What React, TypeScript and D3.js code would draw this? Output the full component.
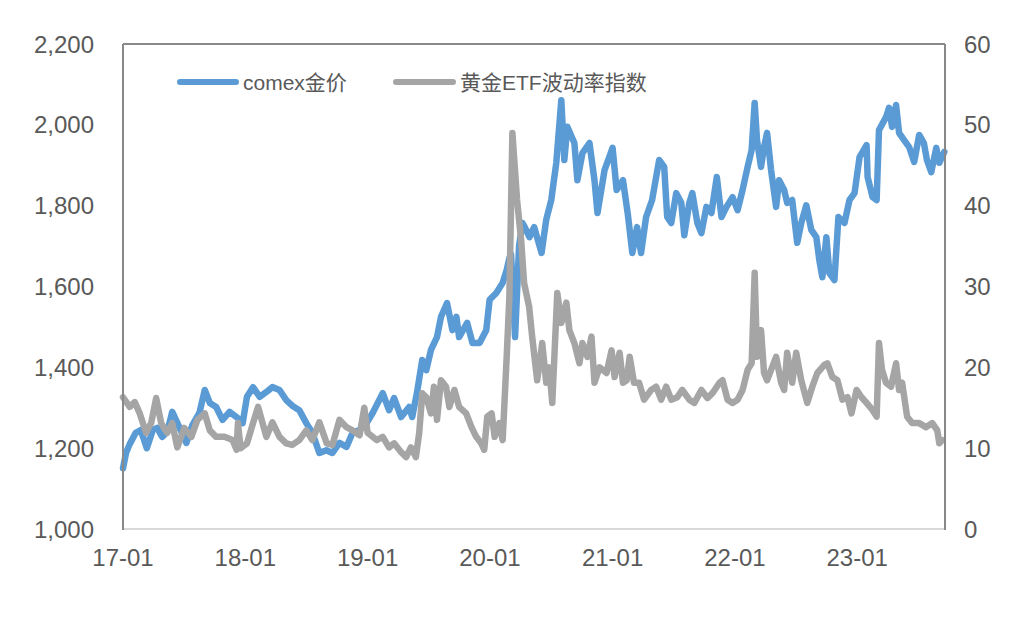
import React from "react";
import * as d3 from "d3";

const goldDates = [
  "2017-01-01","2017-01-10","2017-01-21","2017-02-08","2017-02-23","2017-03-13","2017-03-31","2017-04-13","2017-04-28","2017-05-13","2017-05-28","2017-06-18","2017-07-09","2017-07-27","2017-08-17","2017-09-02","2017-09-17","2017-10-06","2017-10-25","2017-11-15","2017-12-06","2017-12-24",
  "2018-01-06","2018-01-24","2018-02-13","2018-03-05","2018-03-23","2018-04-13","2018-05-03","2018-05-21","2018-06-11","2018-07-02","2018-07-20","2018-08-10","2018-08-31","2018-09-18","2018-10-09","2018-10-30","2018-11-17","2018-12-08","2018-12-29",
  "2019-01-16","2019-02-15","2019-03-06","2019-03-21","2019-04-11","2019-05-05","2019-05-14","2019-05-28","2019-06-13","2019-06-25","2019-07-09","2019-07-27","2019-08-08","2019-08-26","2019-09-11","2019-09-23","2019-10-01","2019-10-25","2019-11-10","2019-12-01","2019-12-21","2019-12-31",
  "2020-01-20","2020-02-08","2020-02-20","2020-02-28","2020-03-04","2020-03-16","2020-03-28","2020-04-07","2020-04-12","2020-04-28","2020-05-12","2020-06-03","2020-06-17","2020-07-02","2020-07-17","2020-08-01","2020-08-10","2020-08-19","2020-09-09","2020-09-18","2020-10-03","2020-10-24","2020-11-08","2020-11-17","2020-12-08",
  "2021-01-01","2021-01-13","2021-02-01","2021-02-15","2021-03-01","2021-03-15","2021-03-27","2021-04-11","2021-04-29","2021-05-20","2021-06-04","2021-06-13","2021-06-25","2021-07-10","2021-07-25","2021-08-03","2021-08-18","2021-08-27","2021-09-11","2021-09-23","2021-10-08","2021-10-23","2021-11-08","2021-11-22","2021-12-07","2021-12-25",
  "2022-01-09","2022-01-24","2022-02-08","2022-02-20","2022-03-01","2022-03-08","2022-03-20","2022-03-29","2022-04-07","2022-04-19","2022-05-04","2022-05-13","2022-05-28","2022-06-06","2022-06-21","2022-07-06","2022-07-18","2022-08-02","2022-08-17","2022-09-01","2022-09-10","2022-09-19","2022-10-01","2022-10-10","2022-10-25","2022-11-06","2022-11-24","2022-12-09","2022-12-24",
  "2023-01-08","2023-01-29","2023-02-01","2023-02-16","2023-02-28","2023-03-07","2023-03-28","2023-04-06","2023-04-15","2023-04-27","2023-05-06","2023-05-21","2023-06-05","2023-06-20","2023-07-05","2023-07-19","2023-07-28","2023-08-10","2023-08-25","2023-09-03","2023-09-18"
];
const goldValues = [
  1150,1188,1210,1238,1245,1200,1245,1250,1228,1240,1290,1252,1213,1257,1287,1344,1312,1302,1270,1290,1277,1262,
  1327,1351,1327,1339,1351,1344,1319,1305,1294,1262,1238,1188,1195,1188,1213,1203,1238,1245,1262,
  1287,1336,1294,1324,1277,1302,1277,1336,1418,1393,1443,1475,1525,1559,1492,1525,1475,1510,1460,1460,1492,1567,
  1584,1609,1641,1670,1680,1475,1700,1757,1750,1722,1747,1683,1765,1814,1906,2061,1913,1995,1955,1863,1930,1955,1863,1782,1888,
  1943,1839,1863,1782,1683,1747,1683,1772,1814,1913,1896,1772,1757,1831,1807,1727,1807,1831,1757,1732,1797,1782,1871,1772,1797,1821,
  1789,1839,1896,1938,2054,1962,1896,1945,1980,1888,1797,1863,1839,1807,1814,1708,1757,1801,1740,1722,1665,1623,1722,1633,1616,1772,1757,1814,1831,
  1920,1950,1871,1821,1814,1987,2019,2042,1995,2049,1980,1962,1945,1908,1975,1955,1913,1883,1943,1906,1933
];

const volDates = [
  "2017-01-01","2017-01-21","2017-02-05","2017-02-20","2017-03-11","2017-03-26","2017-04-10","2017-04-25","2017-05-13","2017-05-28","2017-06-12","2017-07-03","2017-07-24","2017-08-11","2017-09-02","2017-09-17","2017-10-06","2017-10-31","2017-11-24","2017-12-06","2017-12-10","2017-12-18",
  "2018-01-06","2018-01-24","2018-02-08","2018-03-05","2018-03-23","2018-04-13","2018-05-03","2018-05-21","2018-06-11","2018-07-02","2018-07-20","2018-08-10","2018-09-01","2018-09-18","2018-10-09","2018-10-30","2018-11-17","2018-12-08","2018-12-22",
  "2019-01-01","2019-01-28","2019-02-15","2019-03-06","2019-03-21","2019-04-11","2019-04-26","2019-05-10","2019-05-25","2019-06-04","2019-06-13","2019-06-25","2019-07-09","2019-07-18","2019-07-27","2019-08-08","2019-08-23","2019-09-02","2019-09-17","2019-10-01","2019-10-22","2019-11-07","2019-11-21","2019-12-06","2019-12-15","2019-12-24",
  "2020-01-06","2020-01-15","2020-01-29","2020-02-08","2020-02-20","2020-02-28","2020-03-08","2020-03-22","2020-04-03","2020-04-12","2020-04-27","2020-05-06","2020-05-21","2020-06-05","2020-06-17","2020-06-26","2020-07-05","2020-07-20","2020-08-01","2020-08-16","2020-08-25","2020-09-09","2020-09-24","2020-10-03","2020-10-18","2020-10-30","2020-11-08","2020-11-23","2020-12-14","2020-12-29",
  "2021-01-07","2021-01-22","2021-02-01","2021-02-12","2021-02-21","2021-03-06","2021-03-21","2021-04-05","2021-04-26","2021-05-11","2021-05-26","2021-06-10","2021-06-25","2021-07-13","2021-07-28","2021-08-18","2021-09-02","2021-09-23","2021-10-11","2021-10-26","2021-11-16","2021-11-25","2021-12-10","2021-12-25",
  "2022-01-09","2022-01-24","2022-02-08","2022-02-20","2022-03-01","2022-03-08","2022-03-20","2022-03-29","2022-04-07","2022-04-22","2022-05-04","2022-05-19","2022-05-28","2022-06-06","2022-06-21","2022-07-03","2022-07-18","2022-08-05","2022-08-20","2022-09-04","2022-09-25","2022-10-04","2022-10-19","2022-11-03","2022-11-18","2022-12-03","2022-12-15","2022-12-30",
  "2023-01-14","2023-01-29","2023-02-16","2023-02-28","2023-03-07","2023-03-16","2023-03-28","2023-04-12","2023-04-27","2023-05-06","2023-05-15","2023-05-30","2023-06-14","2023-07-05","2023-07-25","2023-08-13","2023-08-28","2023-09-03","2023-09-12"
];
const volValues = [
  16.3,15.1,15.7,14.3,11.9,13.1,16.2,13.1,11.9,13.1,10.1,12.5,11.4,13.5,14.3,12.2,11.4,11.4,11.0,9.8,13.1,10.0,
  10.6,13.1,15.1,11.4,13.2,11.4,10.6,10.4,11.0,12.2,11.0,13.2,10.6,10.4,13.5,12.6,12.2,11.6,15.0,
  11.9,11.0,11.4,10.1,10.6,9.5,8.9,10.1,8.9,11.9,16.8,16.3,14.3,17.6,13.5,18.4,17.6,15.1,17.2,15.1,14.3,12.6,11.4,10.6,9.8,13.9,
  14.3,11.4,13.1,11.0,21.3,28.7,49.0,40.7,35.8,30.4,27.5,23.8,18.4,23.0,18.1,20.0,15.6,29.2,25.5,28.0,24.6,23.0,20.5,23.0,21.3,23.8,18.1,20.0,19.3,22.1,
  18.8,21.8,18.1,18.4,21.3,18.1,18.1,16.0,17.2,17.6,16.0,17.6,16.0,16.3,17.2,16.0,15.6,17.2,16.2,16.8,18.1,18.4,16.0,15.6,
  16.0,17.2,19.7,20.5,31.7,21.3,24.6,19.3,18.4,20.0,21.3,18.1,17.2,21.8,18.1,21.8,18.4,15.6,17.6,19.3,20.3,20.5,18.8,18.4,16.0,16.3,14.3,17.2,
  16.3,15.6,14.7,13.9,23.0,19.7,18.1,17.6,20.5,17.2,18.1,13.9,13.1,13.1,12.6,13.1,12.2,10.6,11.0
];

const leftTicks = [1000, 1200, 1400, 1600, 1800, 2000, 2200];
const rightTicks = [0, 10, 20, 30, 40, 50, 60];
const xTickDates = ["2017-01-01","2018-01-01","2019-01-01","2020-01-01","2021-01-01","2022-01-01","2023-01-01"];
const xTickLabels = ["17-01","18-01","19-01","20-01","21-01","22-01","23-01"];
const seriesNames = ["comex金价", "黄金ETF波动率指数"];

const W = 1034, H = 634;
const L = 123, R = 945, T = 44, B = 529;
const NUMFONT = "'Liberation Sans', Arial, sans-serif";
const FONT = "'Liberation Sans', 'Noto Sans CJK SC', sans-serif";
const BLUE = "#5B9BD5", GRAY = "#A5A5A5", TXT = "#595959";

export default function App() {
  const parse = d3.timeParse("%Y-%m-%d");
  const x = d3.scaleTime().domain([parse("2017-01-01")!, parse("2023-09-20")!]).range([L, R]);
  const yL = d3.scaleLinear().domain([1000, 2200]).range([B, T]);
  const yR = d3.scaleLinear().domain([0, 60]).range([B, T]);

  const gold = goldDates.map((d, i) => ({ d: parse(d)!, v: goldValues[i] }));
  const vol = volDates.map((d, i) => ({ d: parse(d)!, v: volValues[i] }));

  const goldLine = d3.line<{ d: Date; v: number }>().x(p => x(p.d)).y(p => yL(p.v));
  const volLine = d3.line<{ d: Date; v: number }>().x(p => x(p.d)).y(p => yR(p.v));

  return (
    <svg width={W} height={H} style={{ position: "absolute", left: 0, top: 0, background: "#fff" }}>
      <rect x={0} y={0} width={W} height={H} fill="#fff" />
      <path d={goldLine(gold)!} fill="none" stroke={BLUE} strokeWidth={6.5} strokeLinejoin="round" strokeLinecap="round" />
      <path d={volLine(vol)!} fill="none" stroke={GRAY} strokeWidth={6.5} strokeLinejoin="round" strokeLinecap="round" />

      <line x1={L} y1={B} x2={R} y2={B} stroke="#D9D9D9" strokeWidth={2} />
      <line x1={L} y1={T} x2={L} y2={B + 1} stroke="#898989" strokeWidth={2} />
      <line x1={L} y1={T} x2={R} y2={T} stroke="#898989" strokeWidth={2} />
      <line x1={R} y1={T} x2={R} y2={B + 1} stroke="#898989" strokeWidth={2} />

      {leftTicks.map(t => (
        <text key={"l" + t} x={94} y={yL(t)} textAnchor="end" dominantBaseline="central" fontFamily={NUMFONT} fontSize={24} fill={TXT}>
          {d3.format(",")(t)}
        </text>
      ))}
      {rightTicks.map(t => (
        <text key={"r" + t} x={964} y={yR(t)} textAnchor="start" dominantBaseline="central" fontFamily={NUMFONT} fontSize={24} fill={TXT}>
          {t}
        </text>
      ))}
      {xTickDates.map((d, i) => (
        <text key={"x" + d} x={x(parse(d)!)} y={557} textAnchor="middle" dominantBaseline="central" fontFamily={NUMFONT} fontSize={24} fill={TXT}>
          {xTickLabels[i]}
        </text>
      ))}

      <line x1={180} y1={82} x2={236} y2={82} stroke={BLUE} strokeWidth={6} strokeLinecap="round" />
      <text x={243} y={82} dominantBaseline="central" fontFamily={FONT} fontSize={21} fill={TXT}>{seriesNames[0]}</text>
      <line x1={396} y1={82} x2={453} y2={82} stroke={GRAY} strokeWidth={6} strokeLinecap="round" />
      <text x={460} y={82} dominantBaseline="central" fontFamily={FONT} fontSize={21} fill={TXT}>{seriesNames[1]}</text>
    </svg>
  );
}
